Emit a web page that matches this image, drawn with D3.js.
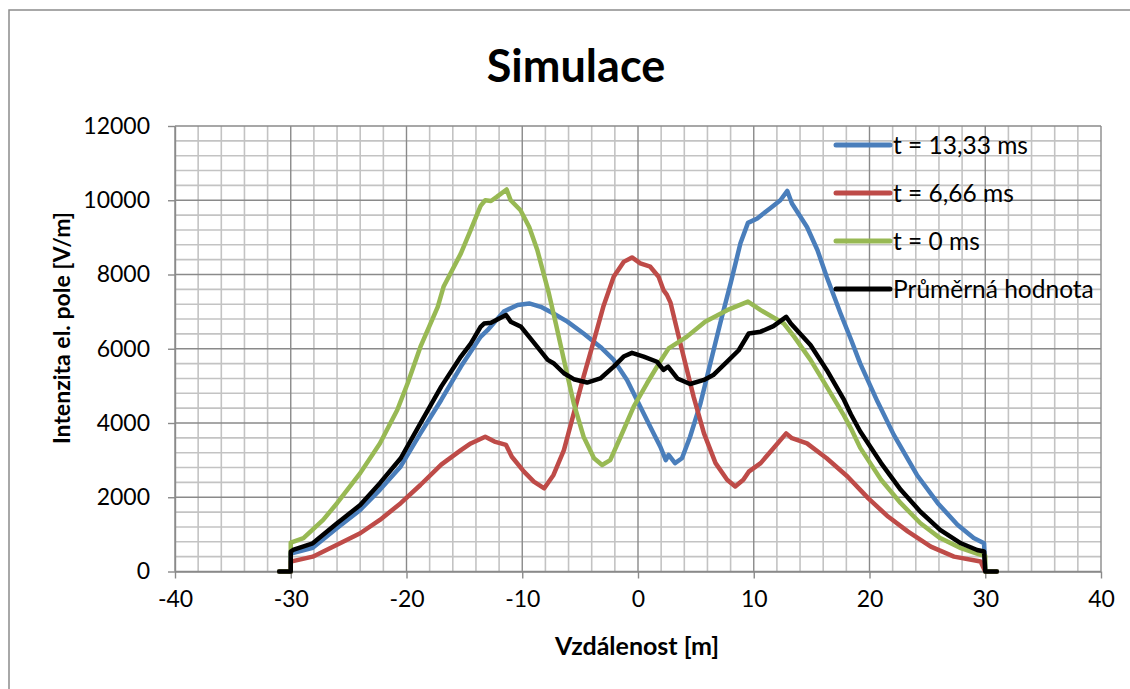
<!DOCTYPE html>
<html>
<head>
<meta charset="utf-8">
<script src="https://cdn.jsdelivr.net/npm/d3@7"></script>
<style>
  body { margin: 0; background: #fff; }
  text { font-family: Lato, "Open Sans", sans-serif; fill: #000; }
</style>
</head>
<body>
<div id="chart"></div>
<script>
// series values: [distance m, field V/m]
let t1333 = [[-31,0],[-30,0],[-30,480],[-28.1,640],[-26,1170],[-24,1660],[-22.3,2200],[-20.5,2830],[-18.8,3720],[-17,4620],[-15.3,5520],[-13.6,6320],[-13,6500],[-11.6,7000],[-10.4,7180],[-9.4,7220],[-8.4,7130],[-7.3,6950],[-6.1,6730],[-4.7,6410],[-3.25,6050],[-2.1,5700],[-0.95,5160],[0.2,4440],[1.35,3720],[1.93,3360],[2.4,3000],[2.65,3140],[3.2,2920],[3.8,3050],[4.5,3630],[5.4,4530],[6.25,5610],[7.1,6680],[8,7760],[8.85,8840],[9.5,9390],[10.3,9510],[11.4,9780],[12.3,10000],[12.9,10250],[13.3,9910],[14.6,9280],[15.5,8660],[16.3,7940],[17.5,6950],[18.4,6250],[19.2,5600],[20.7,4570],[22.1,3680],[24.1,2600],[25.9,1840],[27.6,1260],[29,900],[29.9,760],[30,0],[31,0]];
let t666 = [[-31,0],[-30,0],[-30,265],[-28.1,400],[-26,720],[-24,1030],[-22.3,1390],[-20.5,1840],[-18.8,2330],[-17,2880],[-15.3,3270],[-14.45,3450],[-13.2,3630],[-12.4,3500],[-11.4,3410],[-10.9,3090],[-9.85,2690],[-9,2420],[-8.1,2240],[-7.3,2600],[-6.4,3270],[-5.55,4260],[-4.7,5250],[-3.8,6230],[-3,7130],[-2.1,7940],[-1.24,8340],[-0.52,8460],[0.2,8300],[1.06,8210],[1.78,7940],[2.2,7580],[2.5,7450],[2.8,7250],[3.66,6140],[4.8,4710],[5.7,3720],[6.7,2920],[7.7,2470],[8.4,2290],[9.1,2470],[9.57,2690],[10.6,2920],[11.7,3320],[12.8,3720],[13.3,3590],[14.6,3450],[16.3,3050],[18.1,2560],[19.2,2200],[19.9,1970],[21.6,1480],[23.3,1080],[25.3,670],[27.3,400],[29.6,270],[30,0],[31,0]];
let t0 = [[-31,0],[-30,0],[-30,780],[-28.9,900],[-27.2,1390],[-26,1840],[-24,2650],[-22.3,3450],[-20.8,4350],[-19.9,5070],[-18.8,6050],[-17.3,7130],[-16.8,7670],[-15.3,8570],[-14.45,9200],[-13.6,9850],[-13.2,10000],[-12.7,9980],[-12.2,10090],[-11.35,10290],[-11,10000],[-10.15,9730],[-9.4,9280],[-8.7,8660],[-7.7,7490],[-7.1,6680],[-6.4,5700],[-5.55,4530],[-4.7,3630],[-3.8,3050],[-3.1,2870],[-2.4,3000],[-1.5,3630],[-0.37,4440],[0.78,5070],[1.9,5650],[2.65,6010],[4.2,6320],[5.8,6730],[7.7,7040],[9.5,7270],[10.6,7040],[12.6,6680],[13.5,6320],[14.9,5700],[16.3,4980],[17.8,4200],[18.4,3850],[19.2,3330],[21,2470],[22.7,1840],[24.4,1300],[26.1,900],[27.9,630],[29.6,450],[30,420],[30,0],[31,0]];
let average = [[-31,0],[-30,0],[-30,535],[-29.8,580],[-28.1,760],[-26,1300],[-24,1790],[-22.3,2380],[-20.5,3050],[-18.8,3990],[-17,4980],[-15.3,5790],[-14.45,6140],[-13.6,6590],[-13.3,6680],[-12.7,6700],[-11.4,6910],[-11,6730],[-10.1,6590],[-9.4,6320],[-8.7,6050],[-7.8,5700],[-7.3,5610],[-6.4,5340],[-5.55,5180],[-4.4,5090],[-3.25,5200],[-2.1,5520],[-1.24,5790],[-0.52,5890],[0.49,5790],[1.64,5650],[2.2,5430],[2.6,5520],[3.4,5200],[4.5,5050],[5.7,5160],[6.5,5290],[7.7,5650],[8.7,5960],[9.57,6410],[10.6,6460],[11.7,6610],[12.8,6860],[13.2,6680],[14.9,6100],[16.3,5430],[17.8,4620],[18.4,4230],[19.2,3770],[21,2920],[22.7,2200],[24.4,1610],[26.1,1120],[27.9,760],[29.3,580],[29.9,540],[30,0],[31,0]];

let seriesNames = ["t = 13,33 ms", "t = 6,66 ms", "t = 0 ms", "Průměrná hodnota"];
let seriesColors = ["#4a7ebb", "#be4b48", "#98b954", "#000000"];
let xTicks = [-40, -30, -20, -10, 0, 10, 20, 30, 40];
let yTicks = [0, 2000, 4000, 6000, 8000, 10000, 12000];

let width = 1130;
let height = 689;

let svg = d3.select("#chart")
    .append("svg")
    .attr("width", width)
    .attr("height", height);

// outer chart frame (runs off the picture right and bottom)
svg.append("rect")
    .attr("x", 9).attr("y", 10)
    .attr("width", 1300).attr("height", 900)
    .attr("fill", "none")
    .attr("stroke", "#8c8c8c")
    .attr("stroke-width", 1.5);

let x = d3.scaleLinear().domain([-40, 40]).range([175, 1101]);
let y = d3.scaleLinear().domain([0, 12000]).range([571.5, 126]);

// minor grid
let grid = svg.append("g");
grid.selectAll(".vminor")
    .data(d3.range(-40, 41, 2).filter(d => d % 10 !== 0))
    .enter().append("line")
    .attr("x1", d => x(d)).attr("x2", d => x(d))
    .attr("y1", y(0)).attr("y2", y(12000))
    .attr("stroke", "#c3c3c3").attr("stroke-width", 1.6);
grid.selectAll(".hminor")
    .data(d3.range(0, 12001, 400).filter(d => d % 2000 !== 0))
    .enter().append("line")
    .attr("x1", x(-40)).attr("x2", x(40))
    .attr("y1", d => y(d)).attr("y2", d => y(d))
    .attr("stroke", "#c3c3c3").attr("stroke-width", 1.6);

// major grid
grid.selectAll(".vmajor")
    .data(xTicks)
    .enter().append("line")
    .attr("x1", d => x(d)).attr("x2", d => x(d))
    .attr("y1", y(0)).attr("y2", y(12000))
    .attr("stroke", "#8a8a8a").attr("stroke-width", 1.4);
grid.selectAll(".hmajor")
    .data(yTicks)
    .enter().append("line")
    .attr("x1", x(-40)).attr("x2", x(40))
    .attr("y1", d => y(d)).attr("y2", d => y(d))
    .attr("stroke", "#8a8a8a").attr("stroke-width", 1.4);

// axes
let xAxis = svg.append("g")
    .attr("transform", "translate(0," + y(0) + ")")
    .call(d3.axisBottom(x).tickValues(xTicks).tickSize(7).tickSizeOuter(0).tickPadding(7).tickFormat(d => d));
let yAxis = svg.append("g")
    .attr("transform", "translate(" + x(-40) + ",0)")
    .call(d3.axisLeft(y).tickValues(yTicks).tickSize(7).tickSizeOuter(0).tickPadding(18).tickFormat(d => d));

[xAxis, yAxis].forEach(a => {
    a.select(".domain").attr("stroke", "#8a8a8a").attr("stroke-width", 1.4);
    a.selectAll(".tick line").attr("stroke", "#8a8a8a").attr("stroke-width", 1.4);
    a.selectAll("text")
        .style("font-family", "Lato, sans-serif")
        .style("font-size", "23px")
        .attr("fill", "#000");
});
xAxis.selectAll("text").attr("dy", "0.95em");

// lines
let line = d3.line()
    .x(d => x(d[0]))
    .y(d => y(d[1]));

let allSeries = [t1333, t666, t0, average];
svg.selectAll(".series")
    .data(allSeries)
    .enter().append("path")
    .attr("d", line)
    .attr("fill", "none")
    .attr("stroke", (d, i) => seriesColors[i])
    .attr("stroke-width", 4.5)
    .attr("stroke-linejoin", "round")
    .attr("stroke-linecap", "round");

// legend
let legend = svg.selectAll(".legend")
    .data(seriesNames)
    .enter().append("g")
    .attr("transform", (d, i) => "translate(836," + (145 + i * 48) + ")");

legend.append("line")
    .attr("x1", 0).attr("x2", 54)
    .attr("stroke", (d, i) => seriesColors[i])
    .attr("stroke-width", 5)
    .attr("stroke-linecap", "round");

legend.append("text")
    .attr("x", 57)
    .attr("dy", "0.36em")
    .style("font-size", "24.5px")
    .text(d => d);

// title
svg.append("text")
    .attr("x", 576)
    .attr("y", 82)
    .attr("text-anchor", "middle")
    .style("font-size", "45px")
    .style("font-weight", "bold")
    .text("Simulace");

// axis labels
svg.append("text")
    .attr("x", 637)
    .attr("y", 655)
    .attr("text-anchor", "middle")
    .style("font-size", "25px")
    .style("font-weight", "bold")
    .text("Vzdálenost [m]");

svg.append("text")
    .attr("text-anchor", "middle")
    .attr("transform", "translate(70,328) rotate(-90)")
    .style("font-size", "23px")
    .style("font-weight", "bold")
    .text("Intenzita el. pole [V/m]");
</script>
</body>
</html>
